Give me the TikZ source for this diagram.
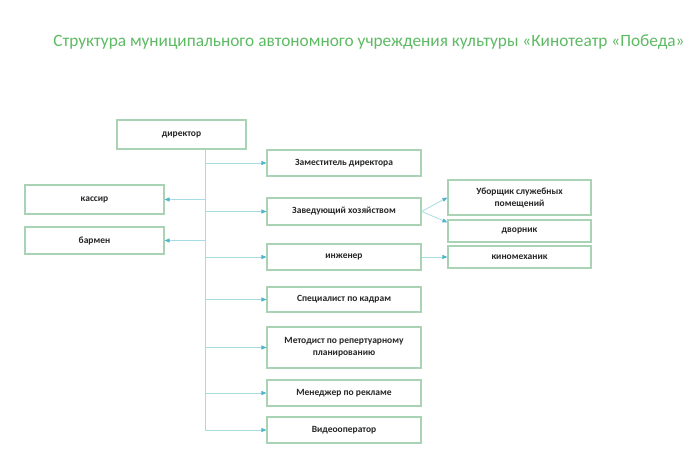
\documentclass[tikz,border=0pt]{standalone}
\usepackage{fontspec}
\setmainfont{Carlito}
\usetikzlibrary{arrows.meta}
\definecolor{bx}{HTML}{A9D3B4}
\definecolor{ln}{HTML}{A8DCE4}
\definecolor{ah}{HTML}{4DB6C8}
\definecolor{tt}{HTML}{5DBB63}
\begin{document}
\begin{tikzpicture}[x=1pt,y=-1pt,
 box/.style={draw=bx,line width=1.2pt,fill=white,font=\fontsize{9.5}{12}\selectfont\bfseries,text=black!85,align=center},
 con/.style={draw=ln,line width=0.8pt,-{Triangle[length=5pt,width=4pt,fill=ah,color=ah]}}]
\useasboundingbox[fill=white] (0,0) rectangle (700,473);
\node[text=tt,font=\fontsize{17.3}{20}\selectfont] (title) at (369,42) {Структура муниципального автономного учреждения культуры «Кинотеатр «Победа»};
\newcommand{\bx}[6]{\node[box,minimum width=#4-#2,minimum height=#5-#3,inner sep=1pt] (#1) at ({(#2+#4)/2},{(#3+#5)/2}) {#6};}
\bx{dir}{117}{120}{246}{149}{директор}
\bx{zam}{267}{150}{421}{176}{Заместитель директора}
\bx{kas}{25}{185}{164}{214}{кассир}
\bx{zav}{267}{198}{421}{225}{Заведующий хозяйством}
\bx{bar}{25}{227}{164}{254}{бармен}
\bx{ub}{448}{180}{591}{215}{Уборщик служебных\\помещений}
\bx{dv}{448}{220}{591}{242}{дворник}
\bx{ing}{267}{244}{421}{270}{инженер}
\bx{km}{448}{246}{591}{268}{киномеханик}
\bx{sp}{267}{287}{421}{312}{Специалист по кадрам}
\bx{met}{267}{327}{421}{368}{Методист по репертуарному\\планированию}
\bx{men}{267}{380}{421}{406}{Менеджер по рекламе}
\bx{vid}{267}{417}{421}{443}{Видеооператор}
\coordinate (t0) at (205,149);
\coordinate (t1) at (205,430);
\draw[draw=ln,line width=0.8pt] (dir.south -| t0) -- (t1);
\foreach \n in {zam,zav,ing,sp,met,men,vid} \draw[con] (\n.west -| t0) -- (\n.west);
\foreach \n in {kas,bar} \draw[con] (\n.east -| t0) -- (\n.east);
\draw[con] (zav.east) -- (ub.west);
\draw[con] (zav.east) -- ([yshift=-3pt]dv.north west);
\draw[con] (ing.east) -- (km.west |- ing.east);
\end{tikzpicture}
\end{document}
